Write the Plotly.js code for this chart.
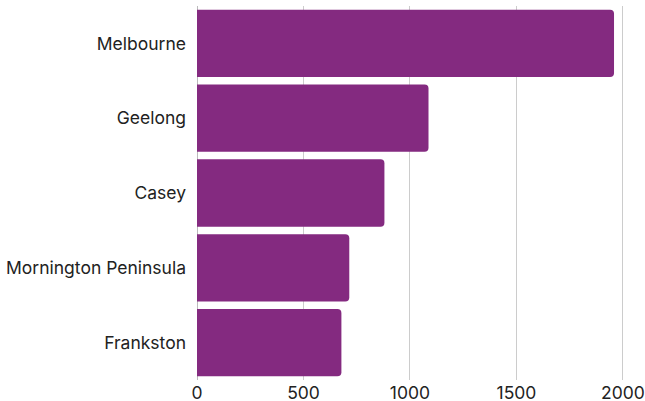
<!DOCTYPE html>
<html><head><meta charset="utf-8">
<script src="https://cdn.plot.ly/plotly-3.0.1.min.js"></script>
<style>html,body{margin:0;padding:0;background:#fff}#c{width:645px;height:401px}</style>
</head><body><div id="c"></div>
<script>
const categories = ["Melbourne", "Geelong", "Casey", "Mornington Peninsula", "Frankston"];
const values = [1958, 1087, 880, 715, 678];
const xTicks = [0, 500, 1000, 1500, 2000];

Plotly.newPlot('c', [{
  type: 'bar', orientation: 'h',
  y: categories, x: values,
  marker: {color: '#842a80', cornerradius: 4},
  hoverinfo: 'none'
}], {
  width: 645, height: 401,
  margin: {l: 197, r: 5, t: 6, b: 21},
  bargap: 0.1,
  paper_bgcolor: '#fff', plot_bgcolor: '#fff',
  font: {family: 'Inter, Lato, sans-serif', size: 17.5, color: '#222'},
  xaxis: {range: [0, 2080], tickvals: xTicks, showgrid: true, gridcolor: '#cccccc', gridwidth: 1,
          zeroline: true, zerolinecolor: '#bbbbbb', showline: false, ticks: '', tickfont: {size: 17.5}},
  yaxis: {autorange: 'reversed', ticks: '', ticklabelstandoff: 10, showgrid: false, tickfont: {size: 17.5}},
  showlegend: false
}, {displayModeBar: false, staticPlot: true});
</script></body></html>
